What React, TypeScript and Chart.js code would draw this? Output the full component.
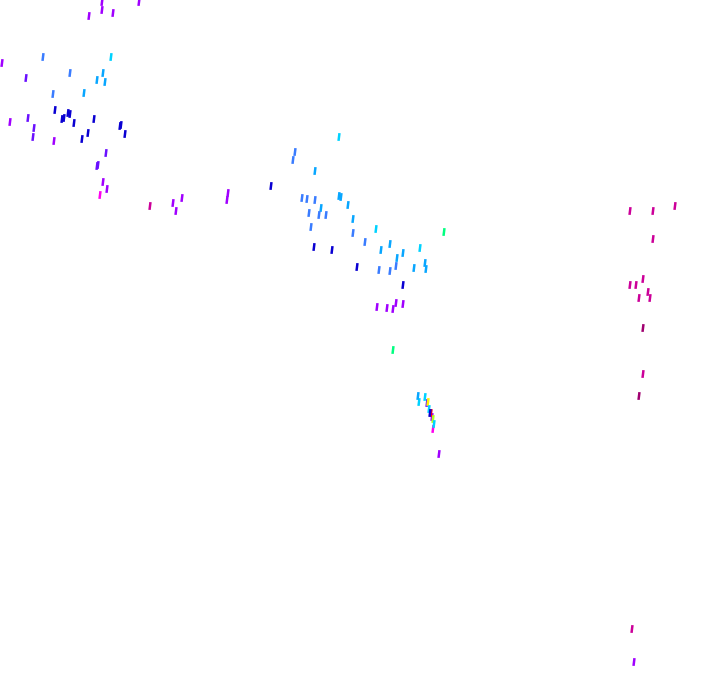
import React, { useEffect, useRef } from "react";
import { Chart, registerables } from "chart.js";

Chart.register(...registerables);

// Marker positions (x, y) per colour group
const darkBlueX = [55, 62, 64, 68, 70, 74, 94, 120, 121, 125, 88, 82, 271, 314, 332, 357, 403, 430];
const darkBlueY = [110, 119, 118, 113, 114, 123, 119, 126, 125, 134, 133, 139, 186, 247, 250, 267, 285, 413];

const blueX = [43, 70, 53, 295, 293, 302, 307, 315, 309, 319, 326, 311, 353, 365, 379, 390, 396];
const blueY = [57, 73, 94, 152, 160, 198, 199, 200, 213, 215, 215, 227, 233, 242, 270, 271, 266];

const skyBlueX = [84, 97, 105, 103, 321, 348, 339, 341, 353, 381, 390, 403, 397, 414, 425, 426, 315, 418];
const skyBlueY = [93, 80, 82, 73, 208, 205, 196, 197, 219, 250, 244, 253, 258, 268, 263, 269, 171, 396];

const cyanX = [111, 339, 376, 420, 425, 419, 429, 434];
const cyanY = [57, 137, 229, 248, 397, 402, 409, 424];

const greenX = [444, 393];
const greenY = [232, 350];

const yellowX = [428];
const yellowY = [402];

const limeX = [433];
const limeY = [419];

const redX = [431];
const redY = [413];

const violetX = [26, 28, 34, 33, 106, 97, 98, 427];
const violetY = [78, 118, 128, 137, 153, 166, 165, 403];

const purpleX = [102, 102, 89, 113, 139, 2, 10, 54, 103, 107, 173, 182, 176, 228, 227, 377, 387, 393, 396, 403, 432, 439, 634];
const purpleY = [2, 10, 16, 13, 2, 63, 122, 141, 182, 189, 203, 198, 211, 193, 200, 307, 308, 309, 303, 304, 417, 454, 662];

const pinkX = [100, 433];
const pinkY = [195, 429];

const magentaX = [150, 630, 653, 675, 653, 643, 630, 636, 648, 639, 650, 643, 632];
const magentaY = [206, 211, 211, 206, 239, 279, 285, 285, 292, 298, 298, 374, 629];

const darkMagentaX = [643, 639];
const darkMagentaY = [328, 396];

const groups: { name: string; xs: number[]; ys: number[]; color: string }[] = [
  { name: "darkBlue", xs: darkBlueX, ys: darkBlueY, color: "#0a00d2" },
  { name: "blue", xs: blueX, ys: blueY, color: "#3a7cff" },
  { name: "skyBlue", xs: skyBlueX, ys: skyBlueY, color: "#08a6ff" },
  { name: "cyan", xs: cyanX, ys: cyanY, color: "#00d2ff" },
  { name: "green", xs: greenX, ys: greenY, color: "#00ff80" },
  { name: "yellow", xs: yellowX, ys: yellowY, color: "#ffee00" },
  { name: "lime", xs: limeX, ys: limeY, color: "#b0ff20" },
  { name: "red", xs: redX, ys: redY, color: "#ff0000" },
  { name: "violet", xs: violetX, ys: violetY, color: "#6a10ff" },
  { name: "purple", xs: purpleX, ys: purpleY, color: "#a000ff" },
  { name: "pink", xs: pinkX, ys: pinkY, color: "#ff00ee" },
  { name: "magenta", xs: magentaX, ys: magentaY, color: "#cc0099" },
  { name: "darkMagenta", xs: darkMagentaX, ys: darkMagentaY, color: "#a00070" },
];

export default function App() {
  const ref = useRef<HTMLCanvasElement | null>(null);

  useEffect(() => {
    if (!ref.current) return;
    const chart = new Chart(ref.current, {
      type: "scatter",
      data: {
        datasets: groups.map((g) => ({
          label: g.name,
          data: g.xs.map((x, i) => ({ x, y: g.ys[i] })),
          pointStyle: "line",
          pointRadius: 4,
          pointHoverRadius: 4,
          pointBorderWidth: 2.5,
          pointRotation: 97,
          borderColor: g.color,
          backgroundColor: g.color,
          clip: false,
        })),
      },
      options: {
        animation: false,
        responsive: true,
        maintainAspectRatio: false,
        layout: { padding: 0, autoPadding: false },
        plugins: { legend: { display: false }, tooltip: { enabled: false } },
        scales: {
          x: { type: "linear", min: 0, max: 720, display: false },
          y: { type: "linear", min: 0, max: 692, reverse: true, display: false },
        },
      },
    });
    return () => chart.destroy();
  }, []);

  return (
    <div style={{ position: "fixed", left: 0, top: 0, width: 720, height: 692, background: "#fff" }}>
      <canvas ref={ref} />
    </div>
  );
}
